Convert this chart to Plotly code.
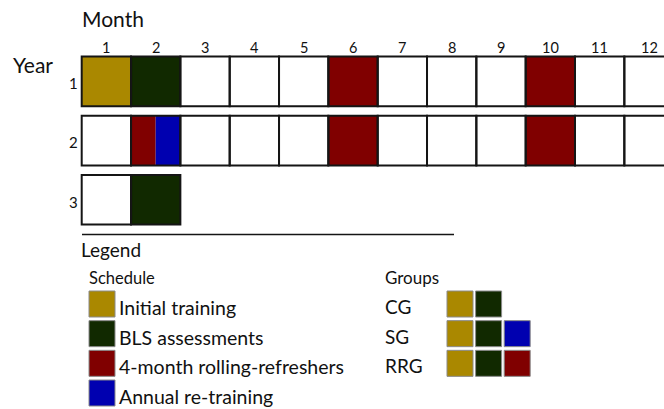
import plotly.graph_objects as go

# ---------------- data ----------------
months = list(range(1, 13))
month_labels = [str(m) for m in months]
years = [1, 2, 3]
year_labels = ["1", "2", "3"]
months_in_year = [12, 12, 2]

categories = ["Initial training", "BLS assessments",
              "4-month rolling-refreshers", "Annual re-training"]
cat_colors = ["#AA8800", "#112900", "#800000", "#0000B0"]

# schedule events (year, month, start fraction, end fraction, category index)
event_year = [1, 1, 1, 1, 2, 2, 2, 2, 3]
event_month = [1, 2, 6, 10, 2, 2, 6, 10, 2]
event_start = [0, 0, 0, 0, 0, 0.5, 0, 0, 0]
event_end = [1, 1, 1, 1, 0.5, 1, 1, 1, 1]
event_cat = [0, 1, 2, 2, 2, 3, 2, 2, 1]

groups = ["CG", "SG", "RRG"]
group_members = [[0, 1], [0, 1, 3], [0, 1, 2]]

# ---------------- layout geometry ----------------
W, H = 664, 409
CELL_W = 49.33          # px per month
GRID_LEFT = 81.7        # px of left edge of month 1
ROW_PITCH = 59.2        # px per year row
ROW1_C = 81.4           # px centre of year 1 row
HALF_H = 0.419          # half cell height in year units

FONT = "Lato, 'Open Sans', sans-serif"
TXT = "#111111"


def pxx(p):
    return p / W


def pxy(p):
    return 1 - p / H


x_range = [0.5 - GRID_LEFT / CELL_W, 0.5 + (W - GRID_LEFT) / CELL_W]
y_range = [1 + (H - ROW1_C) / ROW_PITCH, 1 - ROW1_C / ROW_PITCH]

fig = go.Figure()
# invisible trace to establish axes
fig.add_trace(go.Scatter(x=[months[0]], y=[years[0]], mode="markers",
                         marker=dict(opacity=0), hoverinfo="skip", showlegend=False))

shapes = []
# coloured fills
for yr, m, s, e, c in zip(event_year, event_month, event_start, event_end, event_cat):
    shapes.append(dict(type="rect", xref="x", yref="y",
                       x0=m - 0.5 + s, x1=m - 0.5 + e,
                       y0=yr - HALF_H, y1=yr + HALF_H,
                       fillcolor=cat_colors[c], line=dict(width=0), layer="above"))
# cell outlines
for yr, n in zip(years, months_in_year):
    for m in months[:n]:
        shapes.append(dict(type="rect", xref="x", yref="y",
                           x0=m - 0.5, x1=m + 0.5,
                           y0=yr - HALF_H, y1=yr + HALF_H,
                           fillcolor="rgba(0,0,0,0)",
                           line=dict(color="#151515", width=2), layer="above"))

annotations = []
# month labels
for m, lab in zip(months, month_labels):
    annotations.append(dict(x=m, xref="x", y=pxy(47.5), yref="paper", text=lab,
                            showarrow=False, xanchor="center", yanchor="middle",
                            font=dict(family=FONT, size=14.5, color=TXT)))
# year labels
for yr, lab in zip(years, year_labels):
    annotations.append(dict(x=pxx(79.5), xref="paper", y=yr + 0.03, yref="y", text=lab,
                            showarrow=False, xanchor="right", yanchor="middle",
                            font=dict(family=FONT, size=15, color=TXT)))
annotations.append(dict(x=pxx(80), xref="paper", y=pxy(18.5), yref="paper", text="Month",
                        showarrow=False, xanchor="left", yanchor="middle",
                        font=dict(family=FONT, size=21, color=TXT)))
annotations.append(dict(x=pxx(11), xref="paper", y=pxy(64), yref="paper", text="Year",
                        showarrow=False, xanchor="left", yanchor="middle",
                        font=dict(family=FONT, size=21, color=TXT)))

# legend separator line
shapes.append(dict(type="line", xref="paper", yref="paper",
                   x0=pxx(82), x1=pxx(454), y0=pxy(234.5), y1=pxy(234.5),
                   line=dict(color="#151515", width=1.5)))
annotations.append(dict(x=pxx(79), xref="paper", y=pxy(249.5), yref="paper", text="Legend",
                        showarrow=False, xanchor="left", yanchor="middle",
                        font=dict(family=FONT, size=19, color=TXT)))
annotations.append(dict(x=pxx(87), xref="paper", y=pxy(277.5), yref="paper", text="Schedule",
                        showarrow=False, xanchor="left", yanchor="middle",
                        font=dict(family=FONT, size=16.5, color=TXT)))
annotations.append(dict(x=pxx(383), xref="paper", y=pxy(277.5), yref="paper", text="Groups",
                        showarrow=False, xanchor="left", yanchor="middle",
                        font=dict(family=FONT, size=17, color=TXT)))

SW = 26
SW_TOP = 291
SW_PITCH = 29.67
for i, (cat, col) in enumerate(zip(categories, cat_colors)):
    top = SW_TOP + i * SW_PITCH
    shapes.append(dict(type="rect", xref="paper", yref="paper",
                       x0=pxx(89), x1=pxx(89 + SW), y0=pxy(top), y1=pxy(top + SW),
                       fillcolor=col, line=dict(color="#8a8a8a", width=1)))
    annotations.append(dict(x=pxx(117), xref="paper", y=pxy(top + 16.5), yref="paper", text=cat,
                            showarrow=False, xanchor="left", yanchor="middle",
                            font=dict(family=FONT, size=19.5, color=TXT)))

G_LEFT = 447
G_PITCH = 28.6
for i, (g, mem) in enumerate(zip(groups, group_members)):
    top = SW_TOP + i * SW_PITCH
    annotations.append(dict(x=pxx(383), xref="paper", y=pxy(top + 15.5), yref="paper", text=g,
                            showarrow=False, xanchor="left", yanchor="middle",
                            font=dict(family=FONT, size=19, color=TXT)))
    for j, c in enumerate(mem):
        left = G_LEFT + j * G_PITCH
        shapes.append(dict(type="rect", xref="paper", yref="paper",
                           x0=pxx(left), x1=pxx(left + SW), y0=pxy(top), y1=pxy(top + SW),
                           fillcolor=cat_colors[c], line=dict(color="#8a8a8a", width=1)))

fig.update_layout(
    width=W, height=H,
    margin=dict(l=0, r=0, t=0, b=0, pad=0),
    paper_bgcolor="white", plot_bgcolor="white",
    xaxis=dict(range=x_range, visible=False, fixedrange=True, domain=[0, 1]),
    yaxis=dict(range=y_range, visible=False, fixedrange=True, domain=[0, 1]),
    shapes=shapes, annotations=annotations, showlegend=False,
)

fig.write_html(
    "out.html",
    config={"displayModeBar": False},
    post_script="document.body.style.margin='0';document.body.style.overflow='hidden';"
                "document.documentElement.style.overflow='hidden';",
)
